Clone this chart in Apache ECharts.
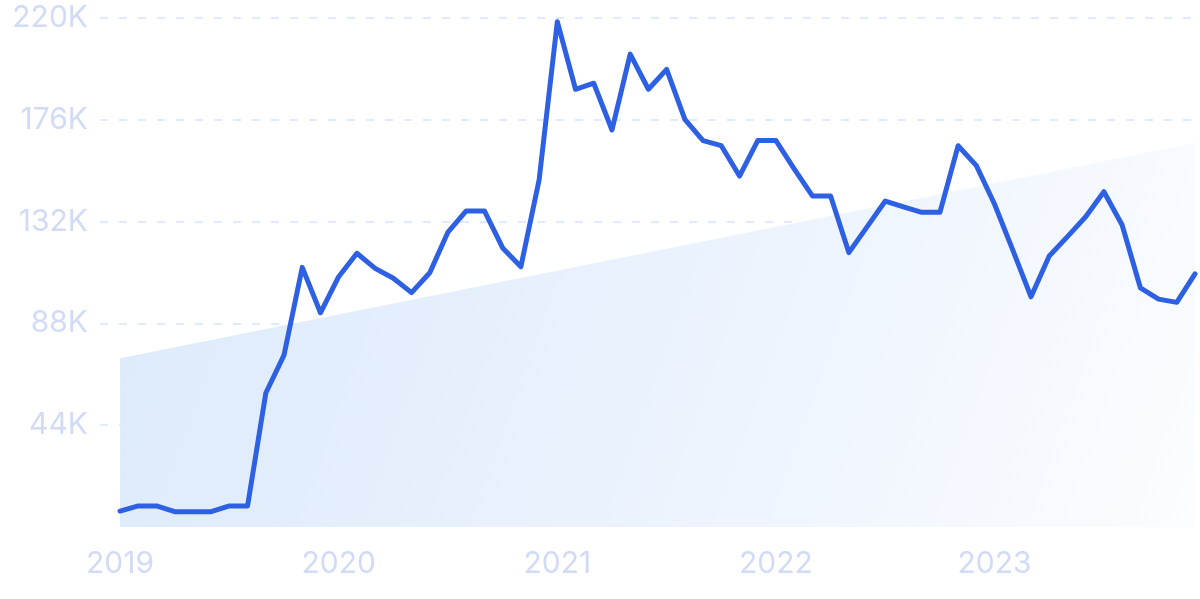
<!DOCTYPE html>
<html>
<head>
<meta charset="utf-8">
<script src="https://cdn.jsdelivr.net/npm/echarts@6/dist/echarts.min.js"></script>
<style>
  html, body { margin: 0; padding: 0; background: #ffffff; }
  #chart { width: 1200px; height: 599px; }
</style>
</head>
<body>
<div id="chart"></div>
<script>
// Monthly values, Jan 2019 .. Dec 2023 (index 0..59)
const monthIndex = [
  0,1,2,3,4,5,6,7,8,9,10,11,
  12,13,14,15,16,17,18,19,20,21,22,23,
  24,25,26,27,28,29,30,31,32,33,34,35,
  36,37,38,39,40,41,42,43,44,45,46,47,
  48,49,50,51,52,53,54,55,56,57,58,59
];
const searchValues = [
  6900, 9100, 9100, 6600, 6600, 6600, 9100, 9100, 57900, 74300, 112200, 92600,
  108200, 118300, 111800, 107500, 101300, 109900, 127500, 136600, 136600, 120600, 112500, 150000,
  218400, 189200, 191800, 171600, 204400, 189200, 197800, 176200, 167000, 164800, 151700, 167000,
  167000, 154800, 143100, 143100, 118600, 129700, 140900, 138400, 136000, 136000, 164800, 156200,
  139500, 119700, 99500, 117100, 125500, 134100, 144900, 130500, 103400, 98500, 97100, 109400
];
// Trend line end points (month index, value)
const trendX = [0, 59];
const trendValues = [72900, 166000];
// Axis ticks
const yTicks = [0, 44000, 88000, 132000, 176000, 220000];
const yearTickIndex = [0, 12, 24, 36, 48];
const yearLabels = ['2019', '2020', '2021', '2022', '2023'];

const chart = echarts.init(document.getElementById('chart'), null, { renderer: 'canvas' });
const labelColor = '#d2dbf6';
const fontFamily = 'Inter, "Noto Sans", sans-serif';

const option = {
  animation: false,
  grid: { left: 100, right: 5, top: 18, bottom: 72, containLabel: false },
  xAxis: {
    type: 'value',
    min: -1.1,
    max: 59,
    axisLine: { show: false },
    axisTick: { show: false },
    splitLine: { show: false },
    axisLabel: {
      customValues: yearTickIndex,
      margin: 22,
      color: labelColor,
      fontSize: 30,
      fontFamily: fontFamily,
      formatter: function (v) {
        const k = yearTickIndex.indexOf(Math.round(v));
        return k >= 0 ? yearLabels[k] : '';
      }
    }
  },
  yAxis: {
    type: 'value',
    min: yTicks[0],
    max: yTicks[yTicks.length - 1],
    interval: yTicks[1] - yTicks[0],
    axisLine: { show: false },
    axisTick: { show: false },
    axisLabel: {
      showMinLabel: false,
      margin: 12,
      color: labelColor,
      fontSize: 30,
      fontFamily: fontFamily,
      formatter: function (v) { return v === 0 ? '' : (v / 1000) + 'K'; }
    },
    splitLine: {
      show: true,
      showMinLine: false,
      lineStyle: { color: '#d5e4fc', width: 1.5, type: [8, 11] }
    }
  },
  series: [
    {
      type: 'line',
      data: trendX.map((x, i) => [x, trendValues[i]]),
      symbol: 'none',
      silent: true,
      lineStyle: { width: 0 },
      areaStyle: {
        opacity: 1,
        color: new echarts.graphic.LinearGradient(0, 0, 1, 1, [
          { offset: 0, color: '#dceafb' },
          { offset: 0.5, color: '#eaf2fd' },
          { offset: 1, color: '#fbfdff' }
        ])
      },
      z: 1
    },
    {
      type: 'line',
      data: monthIndex.map((x, i) => [x, searchValues[i]]),
      symbol: 'none',
      smooth: false,
      lineStyle: { color: '#2e60e4', width: 5, join: 'round', cap: 'round' },
      z: 3
    }
  ]
};
chart.setOption(option);
</script>
</body>
</html>
